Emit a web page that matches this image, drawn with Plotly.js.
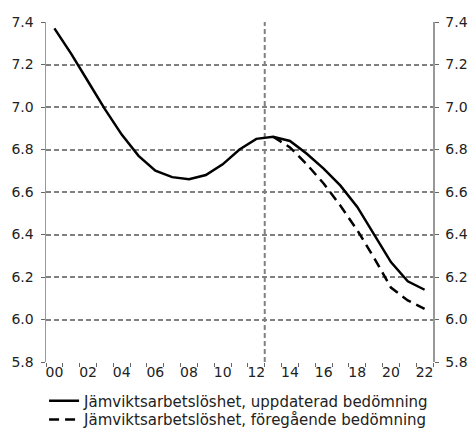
<!DOCTYPE html>
<html>
<head>
<meta charset="utf-8">
<script src="https://cdn.plot.ly/plotly-3.0.1.min.js"></script>
<style>html,body{margin:0;padding:0;background:#fff}#chart{width:471px;height:428px}</style>
</head>
<body>
<div id="chart"></div>
<script>
const years = [2000,2001,2002,2003,2004,2005,2006,2007,2008,2009,2010,2011,2012,2013,2014,2015,2016,2017,2018,2019,2020,2021,2022];
const updated = [7.37,7.25,7.12,6.99,6.87,6.77,6.70,6.67,6.66,6.68,6.73,6.80,6.85,6.86,6.84,6.78,6.71,6.63,6.53,6.40,6.27,6.18,6.14];
const previous = [null,null,null,null,null,null,null,null,null,null,null,null,null,6.86,6.81,6.73,6.64,6.535,6.42,6.29,6.15,6.09,6.05];
const tickYears = [2000,2002,2004,2006,2008,2010,2012,2014,2016,2018,2020,2022];
const tickLabels = ['00','02','04','06','08','10','12','14','16','18','20','22'];
const yTicks = [5.8,6.0,6.2,6.4,6.6,6.8,7.0,7.2,7.4];
const yLabels = ['5.8','6.0','6.2','6.4','6.6','6.8','7.0','7.2','7.4'];
const names = ['Jämviktsarbetslöshet, uppdaterad bedömning','Jämviktsarbetslöshet, föregående bedömning'];
const forecastStart = 2012.5;

const font = {family: 'DejaVu Sans, Verdana, sans-serif', size: 14, color: '#222'};
const legFont = {family: 'DejaVu Sans, Verdana, sans-serif', size: 15, color: '#222'};
const traces = [
  {x: years, y: updated, type: 'scatter', mode: 'lines', name: names[0], legend: 'legend',
   line: {color: '#000', width: 2.5}},
  {x: years, y: previous, type: 'scatter', mode: 'lines', name: names[1], legend: 'legend2',
   line: {color: '#000', width: 2.5, dash: '10px,6px'}, connectgaps: false}
];
const yax = {
  range: [5.8, 7.4], tickmode: 'array', tickvals: yTicks, ticktext: yLabels,
  showgrid: true, gridcolor: '#808080', gridwidth: 2, griddash: '5px,3px',
  zeroline: false, showline: true, linecolor: '#999', linewidth: 1.5,
  ticks: 'outside', ticklen: 4, tickcolor: '#666', tickwidth: 1,
  ticklabelstandoff: 4,
  tickfont: font, fixedrange: true
};
const legBase = {x: -0.005, xanchor: 'left', yanchor: 'middle', orientation: 'v',
                 font: legFont, itemwidth: 30, bgcolor: 'rgba(0,0,0,0)'};
const layout = {
  width: 471, height: 428,
  margin: {l: 46, r: 38, t: 22, b: 66, autoexpand: false},
  paper_bgcolor: '#fff', plot_bgcolor: '#fff',
  font: font,
  showlegend: true,
  legend: Object.assign({}, legBase, {y: -0.115}),
  legend2: Object.assign({}, legBase, {y: -0.17}),
  xaxis: {
    range: [1999.5, 2022.5], tickmode: 'array', tickvals: tickYears, ticktext: tickLabels,
    showgrid: false, zeroline: false, showline: false, ticks: '',
    ticklabelstandoff: 0,
    tickfont: font, fixedrange: true,
    minor: {tickmode: 'linear', tick0: 1999.5, dtick: 1, ticks: 'outside', ticklen: 4,
            tickcolor: '#666', tickwidth: 1, showgrid: false}
  },
  yaxis: Object.assign({}, yax, {side: 'left'}),
  yaxis2: Object.assign({}, yax, {side: 'right', overlaying: 'y', showgrid: false}),
  shapes: [{type: 'line', xref: 'x', yref: 'paper', x0: forecastStart, x1: forecastStart, y0: 0, y1: 1,
            line: {color: '#808080', width: 2, dash: '5px,3px'}, layer: 'below'}]
};
traces.push({x: [years[0]], y: [null], yaxis: 'y2', showlegend: false, hoverinfo: 'skip', type: 'scatter', mode: 'lines'});
Plotly.newPlot('chart', traces, layout, {staticPlot: true});
</script>
</body>
</html>
